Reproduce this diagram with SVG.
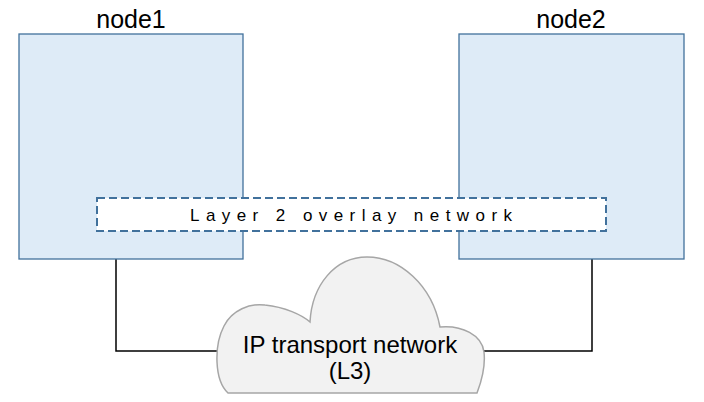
<svg xmlns="http://www.w3.org/2000/svg" width="704" height="402" viewBox="0 0 704 402">
<style>
.node{fill:#deebf7;stroke:#41719c;stroke-width:1.3}
.lbl{font-family:"Liberation Sans",Arial,sans-serif;fill:#000}
.conn{fill:none;stroke:#000;stroke-width:1.5}
</style>
<rect width="704" height="402" fill="#fff"/>
<g id="connectors">
<polyline class="conn" points="116,259 116,351 222,351"/>
<polyline class="conn" points="592,259 592,351 483,351"/>
</g>
<g id="node1">
<rect class="node" x="19" y="34" width="224" height="225"/>
<text class="lbl" x="131" y="28" font-size="25" text-anchor="middle">node1</text>
</g>
<g id="node2">
<rect class="node" x="459" y="34" width="225" height="225"/>
<text class="lbl" x="571" y="28" font-size="25" text-anchor="middle">node2</text>
</g>
<g id="overlay">
<rect x="97" y="198" width="509" height="33" fill="#fff" stroke="#41719c" stroke-width="2" stroke-dasharray="8,4"/>
<text class="lbl" x="190" y="221" font-size="17" textLength="322" lengthAdjust="spacing">Layer 2 overlay network</text>
</g>
<g id="cloud">
<path d="M 228 393 C 214 380 214 345 224 326 C 232 310 250 303 265 305 C 285 307 302 315 310 322 C 312 285 335 257 367 257 C 400 257 432 285 440 327 C 462 325 482 335 484 352 C 486 370 480 385 477 393 Z" fill="#f2f2f2" stroke="#a6a6a6" stroke-width="1.5"/>
<text class="lbl" x="350" y="353" font-size="24" text-anchor="middle">IP transport network</text>
<text class="lbl" x="350" y="379" font-size="24" text-anchor="middle">(L3)</text>
</g>
</svg>
